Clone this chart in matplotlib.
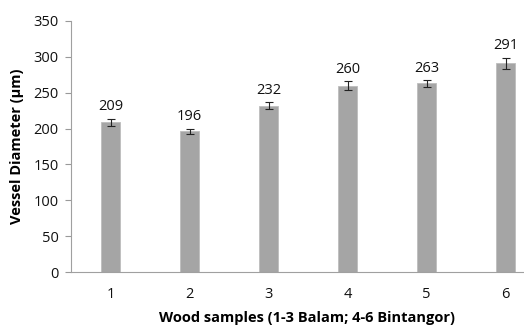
import matplotlib
matplotlib.use("Agg")
from matplotlib import pyplot as plt

samples = [1, 2, 3, 4, 5, 6]
diameters = [209, 196, 232, 260, 263, 291]
errors = [5, 4, 5, 6, 5, 8]
y_ticks = [0, 50, 100, 150, 200, 250, 300, 350]

plt.rcParams['font.family'] = ['Open Sans', 'DejaVu Sans']

fig = plt.figure(figsize=(5.24, 3.27), dpi=100)
ax = fig.add_axes([71/524, 55/327, 474/524, 251/327])

ax.bar(samples, diameters, width=0.25, color='#a5a5a5', edgecolor='#bdbdbd', linewidth=0.6,
       yerr=errors, capsize=3, error_kw=dict(ecolor='#222222', elinewidth=0.8, capthick=0.8))

for s, d, e in zip(samples, diameters, errors):
    ax.text(s, d + e + 6, str(d), ha='center', va='bottom', fontsize=10.5, color='#111111')

ax.set_xlim(0.5, 6.5)
ax.set_ylim(0, 350)
ax.set_yticks(y_ticks)
ax.set_xticks(samples)
ax.tick_params(axis='y', length=4, color='#999999', labelsize=10.5, pad=5, labelcolor='#111111')
ax.tick_params(axis='x', length=0, labelsize=10.5, pad=11, labelcolor='#111111')

for side in ['top', 'right']:
    ax.spines[side].set_visible(False)
for side in ['left', 'bottom']:
    ax.spines[side].set_color('#a0a0a0')
    ax.spines[side].set_linewidth(0.8)

ax.set_ylabel("Vessel Diameter (µm)", fontsize=10.5, fontweight='bold', labelpad=7)
fig.text(307/524, 1 - 318/327, "Wood samples (1-3 Balam; 4-6 Bintangor)",
         ha='center', va='center', fontsize=10.5, fontweight='bold')

fig.savefig("out.png", dpi=100)
